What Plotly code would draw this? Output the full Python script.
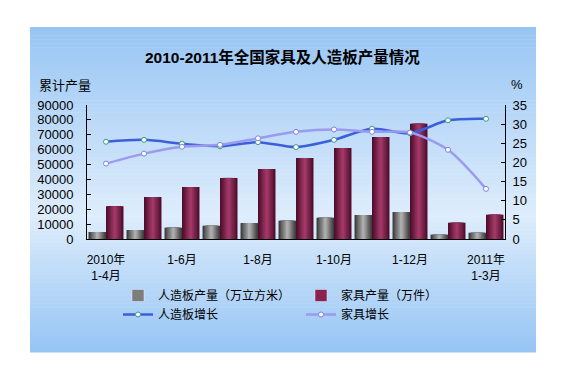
import plotly.graph_objects as go

categories = ["2010年1-4月", "1-5月", "1-6月", "1-7月", "1-8月", "1-9月",
              "1-10月", "1-11月", "1-12月", "2011年1-2月", "2011年1-3月"]
tick_vals = ["2010年1-4月", "1-6月", "1-8月", "1-10月", "1-12月", "2011年1-3月"]
tick_text = ["2010年<br>1-4月", "1-6月", "1-8月", "1-10月", "1-12月", "2011年<br>1-3月"]

board_output = [4700, 6000, 7600, 8900, 10700, 12300, 14300, 16100, 18100, 2900, 4200]
furniture_output = [22000, 28200, 34900, 41000, 47000, 54400, 61100, 68500, 77400, 10900, 16300]
board_growth = [25.4, 25.9, 24.9, 24.2, 25.3, 24.0, 25.9, 28.8, 27.6, 31.0, 31.4]
furniture_growth = [19.7, 22.3, 24.1, 24.6, 26.3, 28.0, 28.6, 28.0, 27.8, 23.3, 13.1]

FONT = "Liberation Sans, Arial, Noto Sans CJK SC, sans-serif"

fig = go.Figure()

BW = 0.46  # bar width in category units


def shaded_bars(values, name, offset, edge, center, legend_col, rank):
    layers = 7
    for k in range(layers):
        f = 1 - k / layers
        t = k / (layers - 1)
        col = tuple(round(edge[i] + (center[i] - edge[i]) * t) for i in range(3))
        w = BW * f
        fig.add_trace(go.Bar(
            x=categories, y=values, name=name, width=w,
            offset=offset + (BW - w) / 2,
            marker=dict(color="rgb(%d,%d,%d)" % col, line=dict(width=0)),
            showlegend=False, hoverinfo="skip" if k else None))
    # legend entry
    fig.add_trace(go.Bar(x=[None], y=[None], name=name, marker=dict(color=legend_col),
                         showlegend=True, legendrank=rank))


shaded_bars(board_output, "人造板产量（万立方米）", -BW, (62, 62, 62), (172, 172, 172), "#7d7d7d", 1)
shaded_bars(furniture_output, "家具产量（万件）", 0, (80, 14, 44), (160, 56, 102), "#8a2352", 2)

fig.add_trace(go.Scatter(x=categories, y=board_growth, name="人造板增长", yaxis="y2", legendrank=3,
                         mode="lines+markers", line=dict(color="#3b5fdc", width=2.5, shape="spline", smoothing=0.8),
                         marker=dict(size=5, color="white", line=dict(color="#3b9a8a", width=1))))
fig.add_trace(go.Scatter(x=categories, y=furniture_growth, name="家具增长", yaxis="y2", legendrank=4,
                         mode="lines+markers", line=dict(color="#9a9aee", width=2.5, shape="spline", smoothing=0.8),
                         marker=dict(size=5, color="white", line=dict(color="#8080e0", width=1))))

# page offset (body margin of the html page)
OFF = 8
W, H = 573 - OFF, 380 - OFF
# plot area in page pixels
L, R, T, B = 87, 505, 105, 239
pw, ph = R - L, B - T
def px2paper_x(px): return (px - L) / pw
def px2paper_y(py): return (B - py) / ph

top_c, mid_c, bot_c = (152, 197, 244), (222, 237, 252), (150, 196, 244)
y0p, ymp, y1p = 27, 215, 352
shapes = []
n = 80
for i in range(n):
    ya = y0p + (y1p - y0p) * i / n
    yb = y0p + (y1p - y0p) * (i + 1) / n
    yc = (ya + yb) / 2
    if yc < ymp:
        t = (yc - y0p) / (ymp - y0p); c0, c1 = top_c, mid_c
    else:
        t = (yc - ymp) / (y1p - ymp); c0, c1 = mid_c, bot_c
    col = tuple(round(c0[k] + (c1[k] - c0[k]) * t) for k in range(3))
    shapes.append(dict(type="rect", xref="paper", yref="paper", layer="below",
                       x0=px2paper_x(30), x1=px2paper_x(536),
                       y0=px2paper_y(yb + 0.5), y1=px2paper_y(ya),
                       fillcolor="rgb(%d,%d,%d)" % col, line=dict(width=0)))

fig.update_layout(
    width=W, height=H,
    margin=dict(l=L - OFF, r=W - (R - OFF), t=T - OFF, b=H - (B - OFF), autoexpand=False),
    paper_bgcolor="white", plot_bgcolor="rgba(0,0,0,0)",
    font=dict(family=FONT, size=12, color="black"),
    barmode="overlay",
    showlegend=True,
    legend=dict(orientation="h", x=px2paper_x(118), y=px2paper_y(281), xanchor="left", yanchor="top",
                entrywidth=138, entrywidthmode="pixels", bgcolor="rgba(0,0,0,0)",
                font=dict(size=12, family="Noto Sans CJK SC, sans-serif"), tracegroupgap=0,
                itemwidth=30),
    shapes=shapes,
    xaxis=dict(type="category", categoryorder="array", categoryarray=categories,
               tickvals=tick_vals, ticktext=tick_text, range=[-0.5, 10.5], automargin=False,
               showline=True, linecolor="black", linewidth=1, ticks="", showgrid=False,
               ticklabelstandoff=10,
               tickfont=dict(size=12, family="Liberation Sans, Noto Sans CJK SC")),
    yaxis=dict(range=[0, 90000], dtick=10000, showline=True, linecolor="black", linewidth=1,
               ticks="inside", ticklen=4, tickcolor="black", showgrid=False, zeroline=False,
               ticklabelstandoff=10,
               tickformat="d", tickfont=dict(size=13), automargin=False),
    yaxis2=dict(range=[0, 35], dtick=5, overlaying="y", side="right", showline=True, linecolor="black",
                linewidth=1, ticks="inside", ticklen=4, tickcolor="black", showgrid=False, zeroline=False,
                ticklabelstandoff=4,
                tickfont=dict(size=13), automargin=False),
    annotations=[
        dict(text="<b>2010-2011年全国家具及人造板产量情况</b>", xref="paper", yref="paper",
             x=px2paper_x(282), y=px2paper_y(57), xanchor="center", yanchor="middle", showarrow=False,
             font=dict(size=15.5, family="Liberation Sans, Noto Sans CJK SC")),
        dict(text="累计产量", xref="paper", yref="paper", x=px2paper_x(37), y=px2paper_y(84),
             xanchor="left", yanchor="middle", showarrow=False,
             font=dict(size=13, family="Noto Sans CJK SC")),
        dict(text="%", xref="paper", yref="paper", x=px2paper_x(517), y=px2paper_y(84),
             xanchor="center", yanchor="middle", showarrow=False, font=dict(size=13)),
    ],
)

fig.write_html("out.html")
